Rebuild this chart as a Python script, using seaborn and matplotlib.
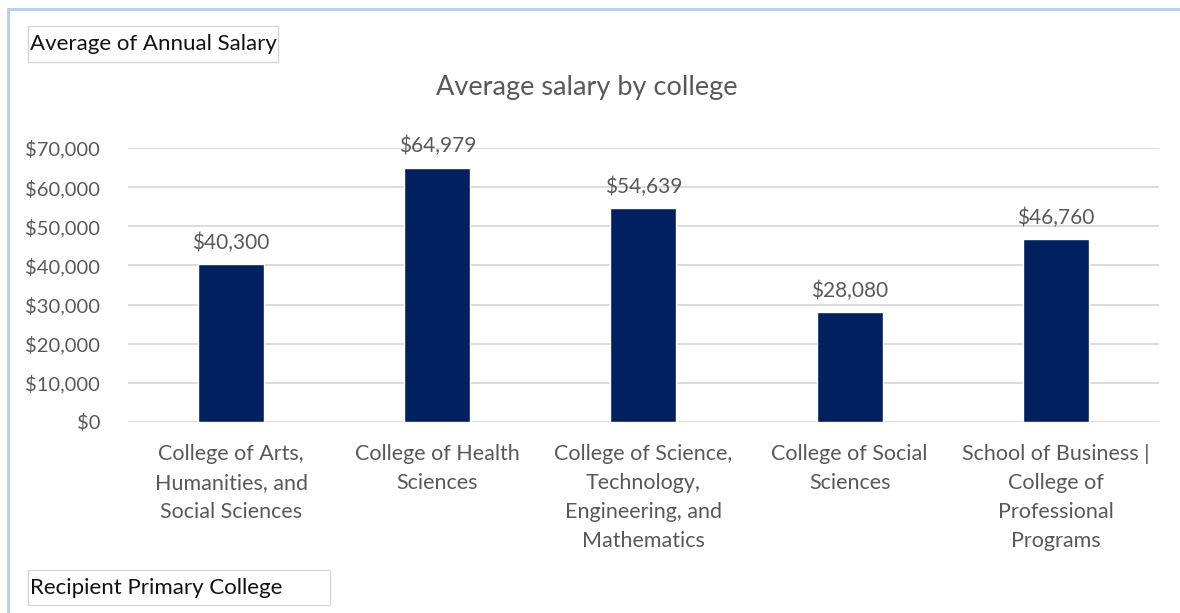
import matplotlib
matplotlib.use("Agg")
import matplotlib.pyplot as plt
from matplotlib.patches import Rectangle
from matplotlib.ticker import FuncFormatter
import seaborn as sns
import pandas as pd

colleges = [
    "College of Arts,\nHumanities, and\nSocial Sciences",
    "College of Health\nSciences",
    "College of Science,\nTechnology,\nEngineering, and\nMathematics",
    "College of Social\nSciences",
    "School of Business |\nCollege of\nProfessional\nPrograms",
]
avg_salary = [40300, 64979, 54639, 28080, 46760]

df = pd.DataFrame({"college": colleges, "salary": avg_salary})

sns.set_theme(style="white")
plt.rcParams["font.family"] = ["Lato", "DejaVu Sans"]

TEXT = "#595959"
BAR = "#002060"
GRID = "#d9d9d9"

fig = plt.figure(figsize=(11.8, 6.13), dpi=100)
ax = fig.add_axes([0.1085, 0.3116, 0.8735, 0.447])

sns.barplot(data=df, x="college", y="salary", color=BAR, width=0.32,
            saturation=1, ax=ax, zorder=3)

ax.set_ylim(0, 70000)
ax.set_yticks(range(0, 70001, 10000))
ax.yaxis.set_major_formatter(FuncFormatter(lambda v, p: f"${v:,.0f}"))
ax.grid(axis="y", color=GRID, linewidth=1.3, zorder=0)
ax.set_axisbelow(True)
for s in ax.spines.values():
    s.set_visible(False)
ax.tick_params(axis="y", length=0, pad=20, labelsize=14.5, labelcolor=TEXT)
ax.tick_params(axis="x", length=0, pad=16, labelsize=15.5, labelcolor=TEXT)
for lab in ax.get_xticklabels():
    lab.set_linespacing(1.55)
ax.set_xlabel("")
ax.set_ylabel("")

for bar, v in zip(ax.patches, avg_salary):
    ax.annotate(f"${v:,.0f}", (bar.get_x() + bar.get_width() / 2, v),
                xytext=(0, 8), textcoords="offset points",
                ha="center", va="bottom", fontsize=15, color=TEXT)

fig.text(0.497, 0.857, "Average salary by college", ha="center", va="center",
         fontsize=19.5, color=TEXT)

# outer chart frame (top and left edges)
fig.add_artist(plt.Line2D([8 / 1180, 8 / 1180], [0, 1 - 9 / 613],
                          transform=fig.transFigure, color="#b4cde8", lw=2))
fig.add_artist(plt.Line2D([8 / 1180, 1], [1 - 9 / 613, 1 - 9 / 613],
                          transform=fig.transFigure, color="#b4cde8", lw=2))

# field buttons
def field_box(x0, y0, x1, y1, label):
    fig.add_artist(Rectangle((x0 / 1180, 1 - y1 / 613), (x1 - x0) / 1180,
                             (y1 - y0) / 613, transform=fig.transFigure,
                             facecolor="white", edgecolor="#d6d6d6", lw=1))
    fig.text((x0 + 2) / 1180, 1 - (y0 + y1) / 2 / 613, label, ha="left",
             va="center", fontsize=16, color="#111111")

field_box(28, 26, 278, 62, "Average of Annual Salary")
field_box(28, 570, 330, 605, "Recipient Primary College")

fig.savefig("out.png", dpi=100, facecolor="white")
